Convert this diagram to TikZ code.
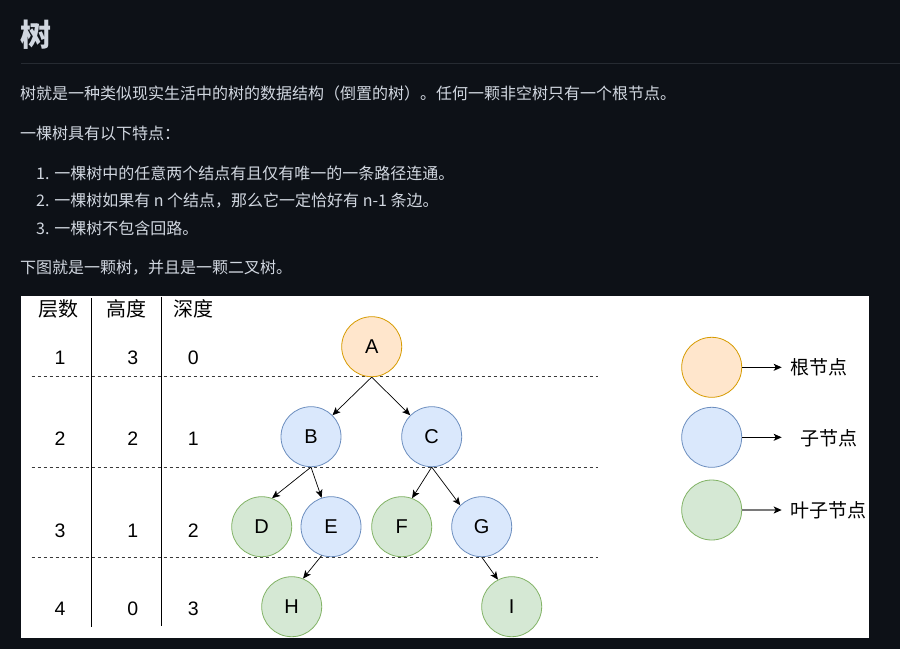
\documentclass[tikz,border=0pt]{standalone}
\usepackage{fontspec}
\setmainfont{Liberation Sans}
\newfontfamily\cjk{Noto Sans CJK SC}
\usepackage{xcolor}
\definecolor{cPage}{HTML}{0D1117}
\definecolor{cText}{HTML}{D1D7E0}
\definecolor{cRule}{HTML}{262B32}
\definecolor{cRootFill}{HTML}{FFE6CC}
\definecolor{cRootLine}{HTML}{D79B00}
\definecolor{cMidFill}{HTML}{DAE8FC}
\definecolor{cMidLine}{HTML}{6C8EBF}
\definecolor{cLeafFill}{HTML}{D5E8D4}
\definecolor{cLeafLine}{HTML}{82B366}
\definecolor{cDash}{HTML}{3A3A3A}
\definecolor{cGray}{HTML}{7A7A7A}
\usepackage{tikz}
\usetikzlibrary{positioning,arrows.meta}
\tikzset{
  node-tree/.style={circle,minimum size=60pt,inner sep=0pt,line width=0.8pt,
    font=\fontsize{20}{20}\selectfont},
  node-root/.style={node-tree,draw=cRootLine,fill=cRootFill},
  node-mid/.style={node-tree,draw=cMidLine,fill=cMidFill},
  node-leaf/.style={node-tree,draw=cLeafLine,fill=cLeafFill},
  text-body/.style={anchor=west,inner sep=0pt,text=cText,
    font=\cjk\fontsize{16}{19}\selectfont},
  text-head/.style={inner sep=0pt,font=\cjk\fontsize{20}{20}\selectfont},
  text-num/.style={inner sep=0pt,font=\fontsize{19.5}{20}\selectfont},
  text-legend/.style={inner sep=0pt,font=\cjk\fontsize{19}{20}\selectfont},
  arrow/.style={-{Stealth[length=8pt,width=7pt,inset=2pt]},line width=0.7pt},
  arrow-legend/.style={-{Stealth[length=8pt,width=7pt,inset=2pt,color=black]},
    line width=1pt},
  line-level/.style={dash pattern=on 3pt off 3pt,line width=0.9pt,draw=cDash},
  line-col/.style={line width=1pt,draw=black},
}

\begin{document}
\begin{tikzpicture}[x=1pt,y=-1pt]
  \useasboundingbox (0,0) rectangle (900,649);
  \fill[cPage] (0,0) rectangle (900,649);
  % 标题与说明文字
  \node[anchor=west,inner sep=0pt,text=cText,
    font=\cjk\bfseries\fontsize{31}{31}\selectfont] (title) at (20,35) {树};
  \draw[cRule,line width=1pt] (21,63) -- (900,63);
  \node[text-body] (intro) at (20,93) {树就是一种类似现实生活中的树的数据结构（倒置的树）。任何一颗非空树只有一个根节点。};
  \node[text-body] (feat)  at (20,133) {一棵树具有以下特点：};
  \node[text-body] (item1) at (36,173) {1. 一棵树中的任意两个结点有且仅有唯一的一条路径连通。};
  \node[text-body] (item2) at (36,201) {2. 一棵树如果有 n 个结点，那么它一定恰好有 n-1 条边。};
  \node[text-body] (item3) at (36,228) {3. 一棵树不包含回路。};
  \node[text-body] (fig)   at (20,268) {下图就是一颗树，并且是一颗二叉树。};

  % 图
  \fill[white] (21,296) rectangle (869,638);
  \node[text-head] (hLevel)  at (58,309)  {层数};
  \node[text-head] (hHeight) at (126,309) {高度};
  \node[text-head] (hDepth)  at (193,309) {深度};
  \draw[line-col] (91.7,298) -- (91.7,627);
  \draw[line-col] (161.7,297) -- (161.7,626);

  \node[text-num] (l1) at (60,358) {1};
  \node[text-num] (h1) at (132.7,358) {3};
  \node[text-num] (d1) at (193.3,358) {0};
  \node[text-num] (l2) at (60,438.3) {2};
  \node[text-num] (h2) at (132.7,438.3) {2};
  \node[text-num] (d2) at (193.3,438.3) {1};
  \node[text-num] (l3) at (60,531) {3};
  \node[text-num] (h3) at (132.7,531) {1};
  \node[text-num] (d3) at (193.3,531) {2};
  \node[text-num] (l4) at (60,608.3) {4};
  \node[text-num] (h4) at (132.7,608.3) {0};
  \node[text-num] (d4) at (193.3,608.3) {3};

  \draw[line-level] (31.7,376.7) -- (598,376.7);
  \draw[line-level] (31.7,467.3) -- (598,467.3);
  \draw[line-level] (31.7,557.3) -- (598,557.3);

  \node[node-root] (A) at (371.7,346.7) {A};
  \node[node-mid]  (B) at (311,436.7) {B};
  \node[node-mid]  (C) at (431.7,436.7) {C};
  \node[node-leaf] (D) at (261.7,526.7) {D};
  \node[node-mid]  (E) at (331,526.7) {E};
  \node[node-leaf] (F) at (401.7,526.7) {F};
  \node[node-mid]  (G) at (481.7,526.7) {G};
  \node[node-leaf] (H) at (291.7,606.7) {H};
  \node[node-leaf] (I) at (511.7,606.7) {I};
  \draw[arrow] (A.south) -- (B.45);
  \draw[arrow] (A.south) -- (C.135);
  \draw[arrow] (B.south) -- (D.70);
  \draw[arrow] (B.south) -- (E.108);
  \draw[arrow] (C.south) -- (F.70);
  \draw[arrow] (C.south) -- (G.135);
  \draw[arrow] (E.252) -- (H.68);
  \draw[arrow] (G.south) -- (I.117);

  % 图例
  \node[node-root] (lgRoot) at (711.7,367.3) {};
  \node[node-mid]  (lgMid)  at (711.7,437.3) {};
  \node[node-leaf] (lgLeaf) at (711.7,510) {};
  \coordinate (lgRootEnd) at (781.7,367.3);
  \coordinate (lgMidEnd)  at (781.7,437.3);
  \coordinate (lgLeafEnd) at (781.7,510);
  \draw[arrow-legend] (lgRoot) -- (lgRootEnd);
  \draw[arrow-legend] (lgMid) -- (lgMidEnd);
  \draw[arrow-legend,draw=cGray,line width=1.5pt] (lgLeaf) -- (lgLeafEnd);
  \node[text-legend] (tRoot) at (818.5,367.3) {根节点};
  \node[text-legend] (tMid)  at (829,438) {子节点};
  \node[text-legend] (tLeaf) at (828,510) {叶子节点};
\end{tikzpicture}
\end{document}
